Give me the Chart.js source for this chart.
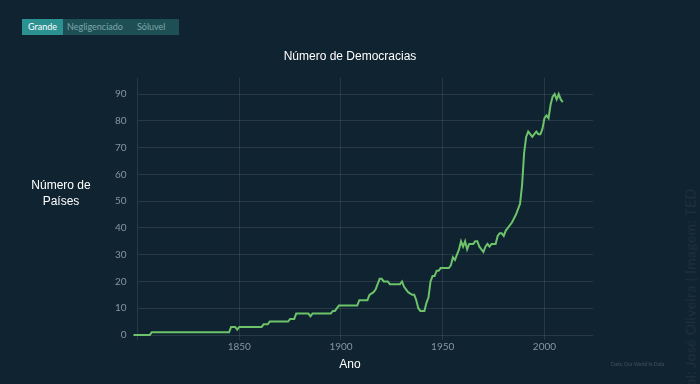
<!DOCTYPE html>
<html>
<head>
<meta charset="utf-8">
<script src="https://cdn.jsdelivr.net/npm/chart.js@4"></script>
<style>
  html, body { margin: 0; padding: 0; background: #0f2330; }
  #wrap { position: relative; width: 700px; height: 384px; overflow: hidden; background: #0f2330; font-family: Lato, "Open Sans", sans-serif; }
  #c { position: absolute; left: 0; top: 0; }
  .tabs { position: absolute; left: 22px; top: 19px; width: 157px; height: 16px; background: #1d4f55; display: flex; font-size: 9px; line-height: 16px; }
  .tab { color: #7fa6a8; }
  .tab.active { background: #2c9191; color: #ffffff; width: 41px; text-align: center; }
  .ttl { position: absolute; left: 0; width: 700px; text-align: center; color: #ffffff; font-size: 12px; line-height: 14px; font-family: "Liberation Sans", Arial, sans-serif; }
  .ylab { position: absolute; left: 20px; top: 177px; width: 82px; text-align: center; color: #ffffff; font-size: 12px; line-height: 16px; font-family: "Liberation Sans", Arial, sans-serif; }
  .wm { position: absolute; left: 690px; top: 446px; transform-origin: 0 0; transform: rotate(-90deg) translateY(-50%); white-space: nowrap; color: rgba(255,255,255,0.06); font-size: 14px; letter-spacing: 0.3px; }
  .src { position: absolute; left: 611px; top: 361px; color: rgba(255,255,255,0.2); font-size: 5px; white-space: nowrap; }
</style>
</head>
<body>
<div id="wrap">
  <canvas id="c" width="700" height="384"></canvas>
  <div class="tabs">
    <div class="tab active">Grande</div>
    <div class="tab" style="margin-left:4px;width:66px;">Negligenciado</div>
    <div class="tab" style="margin-left:4px;">Sóluvel</div>
  </div>
  <div class="ttl" id="title" style="top:49px;"></div>
  <div class="ttl" id="xtitle" style="top:357px;"></div>
  <div class="ylab">Número de<br>Países</div>
  <div class="wm">Arte digital: José Oliveira | Imagem: TED</div>
  <div class="src">Data: Our World in Data</div>
</div>
<script>
const chartTitle = "Número de Democracias";
const xTitle = "Ano";
const xTickValues = [1800, 1850, 1900, 1950, 2000];
const yTickValues = [0, 10, 20, 30, 40, 50, 60, 70, 80, 90];

const years = [1798, 1806, 1807, 1845, 1846, 1848, 1849, 1850, 1861, 1862, 1864, 1865, 1874, 1875, 1877, 1878, 1884, 1885, 1886, 1895, 1896, 1897, 1899,
  1908, 1909, 1913, 1914, 1916, 1917, 1918, 1919, 1920, 1921, 1923, 1924, 1929, 1930, 1931, 1933, 1935, 1936, 1937, 1938, 1939, 1941, 1942, 1943,
  1944, 1945, 1946, 1947, 1948, 1949, 1950, 1953, 1954, 1955, 1956, 1957, 1958, 1959, 1960, 1961, 1962, 1963, 1965, 1966, 1967, 1968, 1970, 1971,
  1972, 1973, 1974, 1976, 1977, 1978, 1979, 1980, 1981, 1982, 1984, 1986, 1987, 1988, 1989, 1990, 1991, 1992, 1993, 1994, 1995, 1996, 1997, 1998,
  1999, 2000, 2001, 2002, 2003, 2004, 2005, 2006, 2007, 2008, 2009];
const democracies = [0, 0, 1, 1, 3, 3, 2, 3, 3, 4, 4, 5, 5, 6, 6, 8, 8, 7, 8, 8, 9, 9, 11,
  11, 13, 13, 15, 16, 17, 19, 21, 21, 20, 20, 19, 19, 20, 18, 16, 15, 15, 13, 10, 9, 9, 12, 14,
  20, 22, 22, 24, 24, 25, 25, 25, 26, 29, 28, 30, 32, 35, 33, 35, 32, 34, 34, 35, 35, 33, 31, 33,
  34, 33, 34, 34, 37, 38, 38, 37, 39, 40, 42, 45, 47, 49, 56, 68, 74, 76, 75, 74, 75, 76, 75, 75,
  77, 81, 82, 81, 86, 89, 90, 88, 90, 88, 87];

document.getElementById('title').textContent = chartTitle;
document.getElementById('xtitle').textContent = xTitle;

const points = years.map((y, i) => ({ x: y, y: democracies[i] }));

new Chart(document.getElementById('c'), {
  type: 'line',
  data: {
    datasets: [{
      data: points,
      borderColor: '#6cc36a',
      borderWidth: 2,
      pointRadius: 0,
      tension: 0,
      fill: false,
      clip: false
    }]
  },
  options: {
    responsive: false,
    animation: false,
    layout: { padding: { left: 0, right: 106.7, top: 78, bottom: 0 } },
    plugins: {
      legend: { display: false },
      tooltip: { enabled: false },
      title: { display: false }
    },
    scales: {
      x: {
        type: 'linear',
        min: 1800,
        max: 2024,
        afterBuildTicks: s => { s.ticks = xTickValues.map(v => ({ value: v })); },
        afterFit: s => { s.height = 49; },
        grid: { color: 'rgba(255,255,255,0.10)', drawTicks: true, tickLength: 5 },
        border: { display: false },
        ticks: {
          color: '#8795a0',
          font: { family: 'Lato, "Open Sans", sans-serif', size: 10 },
          padding: 1,
          maxRotation: 0,
          autoSkip: false,
          callback: v => (v === 1800 ? '' : String(v))
        }
      },
      y: {
        type: 'linear',
        min: 0,
        max: 96,
        afterBuildTicks: s => { s.ticks = yTickValues.map(v => ({ value: v })); },
        afterFit: s => { s.width = 137.5; },
        grid: { color: 'rgba(255,255,255,0.10)', drawTicks: false },
        border: { display: false },
        ticks: {
          color: '#8795a0',
          font: { family: 'Lato, "Open Sans", sans-serif', size: 10 },
          padding: 11
        }
      }
    }
  }
});
</script>
</body>
</html>
